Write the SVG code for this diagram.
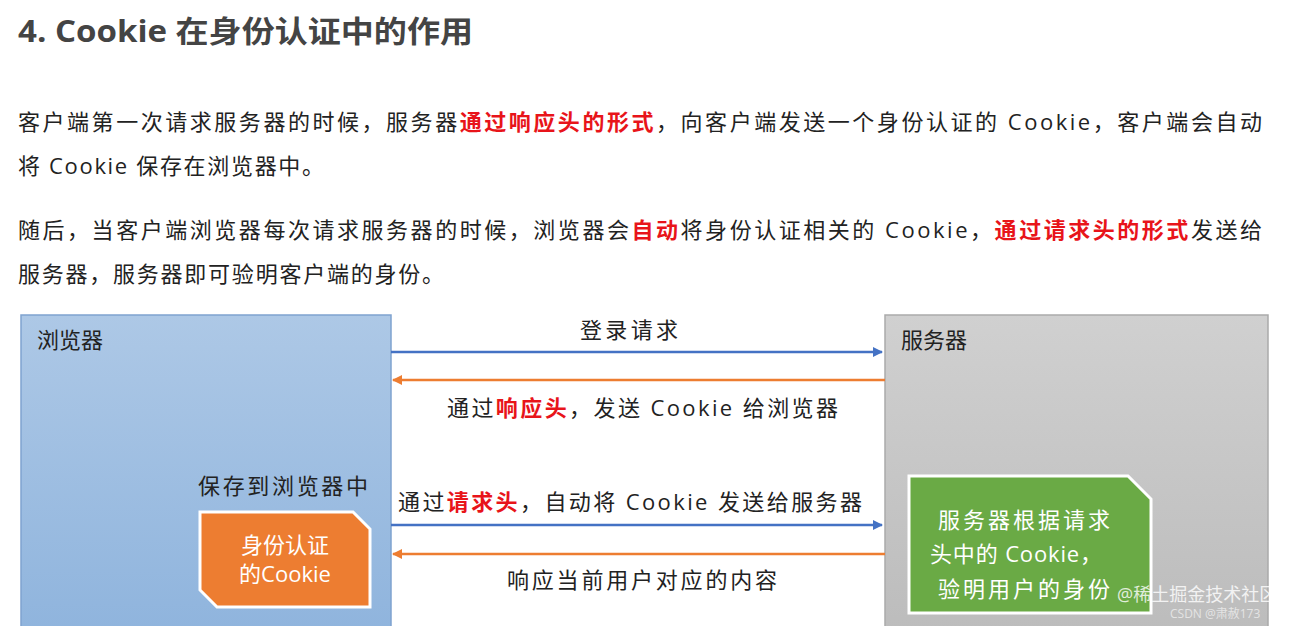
<svg xmlns="http://www.w3.org/2000/svg" width="1297" height="626" viewBox="0 0 1297 626">
<style>
text{font-family:"Open Sans","Noto Sans CJK SC",sans-serif;fill:#222}
.p{font-size:22px}
.r{fill:#e8141a;font-weight:bold}
.l{font-size:22px}
.w{fill:#fff;font-size:22px}
</style>
<defs>
<linearGradient id="gb" x1="0" y1="0" x2="0" y2="1"><stop offset="0" stop-color="#adc8e6"/><stop offset="1" stop-color="#8fb4dd"/></linearGradient>
<linearGradient id="gg" x1="0" y1="0" x2="0" y2="1"><stop offset="0" stop-color="#d0d0d0"/><stop offset="1" stop-color="#bcbcbc"/></linearGradient>
<marker id="ab" markerWidth="10" markerHeight="10" refX="9" refY="5" orient="auto" markerUnits="userSpaceOnUse"><path d="M0,0L10,5L0,10z" fill="#4472c4"/></marker>
<marker id="ao" markerWidth="10" markerHeight="10" refX="9" refY="5" orient="auto" markerUnits="userSpaceOnUse"><path d="M0,0L10,5L0,10z" fill="#ed7d31"/></marker>
</defs>
<rect width="1297" height="626" fill="#fff"/>
<text x="18" y="42" textLength="455" lengthAdjust="spacingAndGlyphs" style="font-size:30px;font-weight:bold;fill:#444">4. Cookie 在身份认证中的作用</text>
<text class="p" x="18" y="130" textLength="1244">客户端第一次请求服务器的时候，服务器<tspan class="r">通过响应头的形式</tspan>，向客户端发送一个身份认证的 Cookie，客户端会自动</text>
<text class="p" x="18" y="174" textLength="306">将 Cookie 保存在浏览器中。</text>
<text class="p" x="18" y="238" textLength="1244">随后，当客户端浏览器每次请求服务器的时候，浏览器会<tspan class="r">自动</tspan>将身份认证相关的 Cookie，<tspan class="r">通过请求头的形式</tspan>发送给</text>
<text class="p" x="18" y="282" textLength="426">服务器，服务器即可验明客户端的身份。</text>
<g id="browser">
<rect x="21" y="315" width="370" height="320" fill="url(#gb)" stroke="#7fa3cf" stroke-width="1.5"/>
<text class="l" x="37" y="348">浏览器</text>
<text class="l" x="198" y="494" textLength="170">保存到浏览器中</text>
</g>
<g id="cookie">
<path d="M200,512H353L370,529V607H217L200,590Z" fill="#ed7d31" stroke="#fff" stroke-width="3"/>
<text class="w" x="285" y="553" text-anchor="middle">身份认证</text>
<text class="w" x="285" y="582" text-anchor="middle">的Cookie</text>
</g>
<g id="server">
<rect x="885" y="315" width="383" height="320" fill="url(#gg)" stroke="#aaa" stroke-width="1.5"/>
<text class="l" x="901" y="348">服务器</text>
</g>
<g id="verify">
<path d="M909,476H1128L1151,499V613H909Z" fill="#6aaa45" stroke="#fff" stroke-width="3"/>
<text class="w" x="938" y="528" textLength="172">服务器根据请求</text>
<text class="w" x="930" y="562" textLength="172">头中的 Cookie，</text>
<text class="w" x="938" y="597" textLength="172">验明用户的身份</text>
</g>
<g id="connectors" stroke-width="2.5" fill="none">
<line x1="391" y1="352" x2="882" y2="352" stroke="#4472c4" marker-end="url(#ab)"/>
<line x1="885" y1="380" x2="393" y2="380" stroke="#ed7d31" marker-end="url(#ao)"/>
<line x1="391" y1="525" x2="882" y2="525" stroke="#4472c4" marker-end="url(#ab)"/>
<line x1="885" y1="554" x2="393" y2="554" stroke="#ed7d31" marker-end="url(#ao)"/>
</g>
<g id="labels">
<text class="l" x="580" y="338" textLength="98">登录请求</text>
<text class="l" x="447" y="416" textLength="391">通过<tspan class="r">响应头</tspan>，发送 Cookie 给浏览器</text>
<text class="l" x="398" y="510" textLength="464">通过<tspan class="r">请求头</tspan>，自动将 Cookie 发送给服务器</text>
<text class="l" x="507" y="588" textLength="270">响应当前用户对应的内容</text>
</g>
<text x="1117" y="601" style="font-size:18px;fill:#fff;opacity:0.8">@稀土掘金技术社区</text>
<text x="1170" y="618" style="font-size:12px;fill:#eee;opacity:0.8">CSDN @肃赦173</text>
</svg>
